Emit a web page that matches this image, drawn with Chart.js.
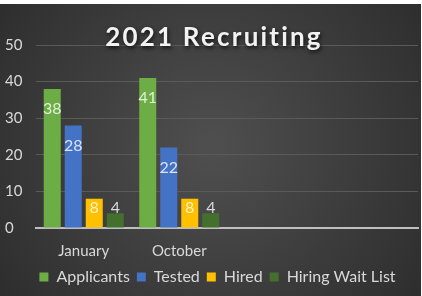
<!DOCTYPE html>
<html><head><meta charset="utf-8">
<script src="https://cdn.jsdelivr.net/npm/chart.js@4"></script>
<style>html,body{margin:0;padding:0;background:#fff;}#wrap{position:absolute;left:0;top:0;width:422px;height:296px;}</style>
</head><body><div id="wrap"><canvas id="c" width="422" height="296"></canvas></div>
<script>
const categories = ['January', 'October', '', ''];
const applicants = [38, 41, null, null];
const tested = [28, 22, null, null];
const hired = [8, 8, null, null];
const waitList = [4, 4, null, null];
const yTicks = [0, 10, 20, 30, 40, 50];
const seriesNames = ['Applicants', 'Tested', 'Hired', 'Hiring Wait List'];
const titleText = '2021 Recruiting';

const FONT = 'Lato, "Open Sans", sans-serif';
const TXT = '#d9d9d9';

const bgPlugin = {
  id: 'bg',
  beforeDraw(chart) {
    const ctx = chart.ctx, w = chart.width, h = chart.height;
    ctx.save();
    ctx.fillStyle = '#ffffff';
    ctx.fillRect(0, 0, w, h);
    const g = ctx.createRadialGradient(w / 2, h / 2, 10, w / 2, h / 2, 270);
    g.addColorStop(0, '#4e4e4e');
    g.addColorStop(1, '#2c2c2c');
    ctx.fillStyle = g;
    ctx.fillRect(0, 4, w - 1, h - 4);
    ctx.restore();
  }
};

const legendShift = {
  id: 'legendShift',
  afterLayout(chart) {
    if (chart.legend) { chart.legend.left += 6; chart.legend.right += 6; }
  }
};

const labelPlugin = {
  id: 'labels',
  afterDatasetsDraw(chart) {
    const ctx = chart.ctx;
    const colors = ['#e2efd9', '#dae3f3', '#fff2cc', '#d9d9d9'];
    ctx.save();
    ctx.font = '16px ' + FONT;
    ctx.textAlign = 'center';
    ctx.textBaseline = 'middle';
    chart.data.datasets.forEach((ds, i) => {
      const meta = chart.getDatasetMeta(i);
      meta.data.forEach((el, j) => {
        const v = ds.data[j];
        if (v === null || v === undefined) return;
        const y = Math.min(el.y + 20, el.base - 20);
        ctx.fillStyle = colors[i];
        ctx.fillText(String(v), el.x, y);
      });
    });
    ctx.restore();
  }
};

const titlePlugin = {
  id: 'ttl',
  afterDraw(chart) {
    const ctx = chart.ctx;
    ctx.save();
    ctx.font = 'bold 26px ' + FONT;
    ctx.letterSpacing = '2.2px';
    ctx.textAlign = 'center';
    ctx.textBaseline = 'middle';
    ctx.shadowColor = 'rgba(0,0,0,0.8)';
    ctx.shadowBlur = 4;
    ctx.shadowOffsetX = 1;
    ctx.shadowOffsetY = 2;
    ctx.fillStyle = '#f2f2f2';
    ctx.fillText(titleText, 214, 38);
    ctx.restore();
  }
};

new Chart(document.getElementById('c'), {
  type: 'bar',
  data: {
    labels: categories,
    datasets: [
      { label: seriesNames[0], data: applicants, backgroundColor: '#6cae45' },
      { label: seriesNames[1], data: tested, backgroundColor: '#4472c4' },
      { label: seriesNames[2], data: hired, backgroundColor: '#ffc000' },
      { label: seriesNames[3], data: waitList, backgroundColor: '#44702e' }
    ]
  },
  options: {
    responsive: false,
    animation: false,
    devicePixelRatio: 1,
    layout: { padding: { left: 5, right: 4, top: 45, bottom: 1 } },
    datasets: { bar: { categoryPercentage: 0.88, barPercentage: 0.81 } },
    plugins: {
      title: { display: false },
      tooltip: { enabled: false },
      legend: {
        position: 'bottom',
        labels: {
          color: TXT,
          font: { family: FONT, size: 16 },
          boxWidth: 9, boxHeight: 9,
          padding: 7
        }
      }
    },
    scales: {
      x: {
        afterFit(scale) { scale.height = 34; },
        grid: { display: false, drawTicks: false },
        border: { display: true, color: '#bfbfbf', width: 2 },
        ticks: { color: TXT, font: { family: FONT, size: 15 }, padding: 14 }
      },
      y: {
        min: 0, max: 50,
        afterFit(scale) { scale.width = 31; },
        afterBuildTicks(scale) { scale.ticks = yTicks.map(v => ({ value: v })); },
        grid: { color: '#5a5a5a', lineWidth: 1, drawTicks: false },
        border: { display: false },
        ticks: { color: TXT, font: { family: FONT, size: 15 }, padding: 14, crossAlign: 'far' }
      }
    }
  },
  plugins: [bgPlugin, legendShift, labelPlugin, titlePlugin]
});
</script>
</body></html>
